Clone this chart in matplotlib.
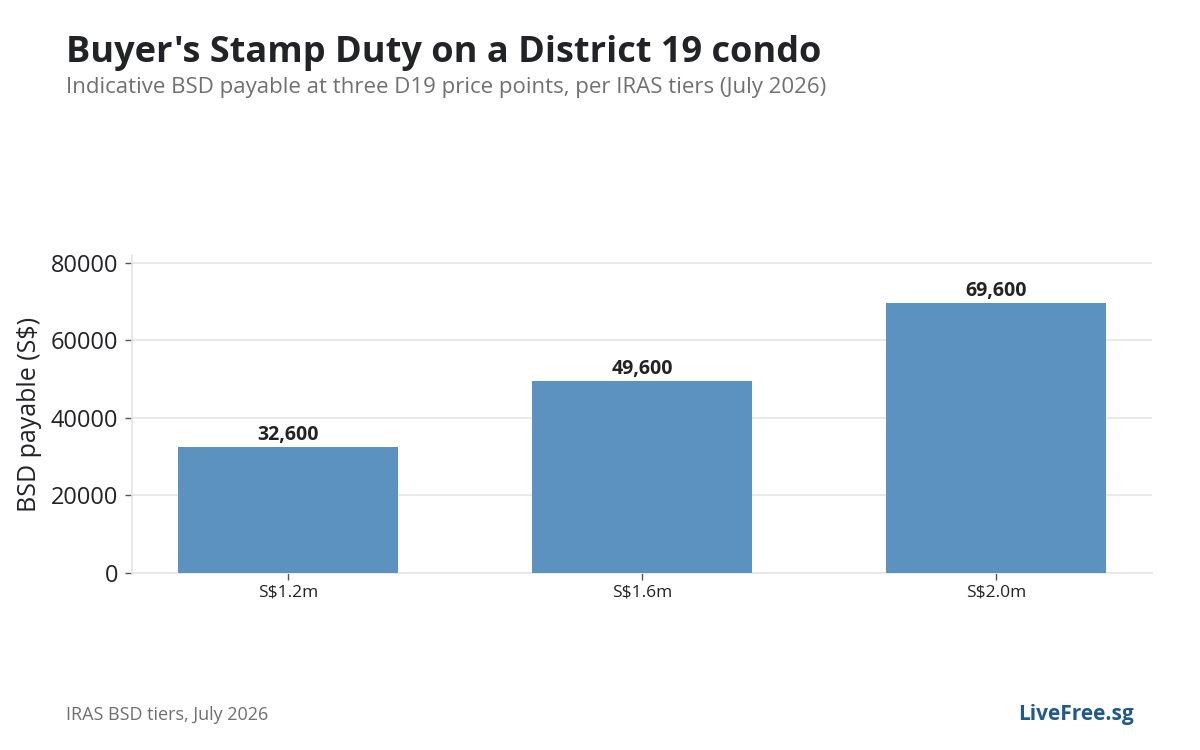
import matplotlib
matplotlib.use("Agg")
import matplotlib.pyplot as plt

# ------------------------------------------------------------
# Data
# ------------------------------------------------------------
PRICE_LABELS = ["S$1.2m", "S$1.6m", "S$2.0m"]
BSD_PAYABLE = [32600, 49600, 69600]
Y_TICKS = [0, 20000, 40000, 60000, 80000]

TITLE = "Buyer's Stamp Duty on a District 19 condo"
SUBTITLE = "Indicative BSD payable at three D19 price points, per IRAS tiers (July 2026)"
SOURCE = "IRAS BSD tiers, July 2026"
BRAND = "LiveFree.sg"

BAR_COLOR = "#5B92C0"
GRID_COLOR = "#E3E5E8"
TEXT_DARK = "#222326"
TEXT_GREY = "#707070"
BRAND_COLOR = "#1F5A8A"

plt.rcParams.update({
    "font.family": ["Open Sans", "DejaVu Sans"],
    "axes.unicode_minus": False,
})

fig = plt.figure(figsize=(12, 7.5), dpi=100)
ax = fig.add_axes([0.11, 0.236, 0.85, 0.424])

x = list(range(len(PRICE_LABELS)))
ax.bar(x, BSD_PAYABLE, width=0.62, color=BAR_COLOR, zorder=3)

for xi, val in zip(x, BSD_PAYABLE):
    ax.text(xi, val + 500, f"{val:,}", ha="center", va="bottom",
            fontsize=14, fontweight="bold", color=TEXT_DARK, zorder=4)

ax.set_ylim(0, 82000)
ax.set_yticks(Y_TICKS)
ax.set_yticklabels([str(t) for t in Y_TICKS], fontsize=17, color=TEXT_DARK)
ax.set_xticks(x)
ax.set_xticklabels(PRICE_LABELS, fontsize=12.5, color=TEXT_DARK)
ax.set_ylabel("BSD payable (S$)", fontsize=18, color=TEXT_DARK, labelpad=6)

ax.grid(axis="y", color=GRID_COLOR, lw=1.2, zorder=0)
for side in ["top", "right"]:
    ax.spines[side].set_visible(False)
for side in ["left", "bottom"]:
    ax.spines[side].set_color(GRID_COLOR)
    ax.spines[side].set_linewidth(1.2)
ax.tick_params(axis="both", color="#555555", length=5, width=1)
ax.tick_params(axis="y", pad=5)

fig.text(0.055, 0.917, TITLE, fontsize=26, fontweight="bold",
         color=TEXT_DARK, ha="left", va="baseline")
fig.text(0.055, 0.876, SUBTITLE, fontsize=16, color=TEXT_GREY,
         ha="left", va="baseline")
fig.text(0.055, 0.040, SOURCE, fontsize=13, color=TEXT_GREY,
         ha="left", va="baseline")
fig.text(0.945, 0.040, BRAND, fontsize=15, fontweight="bold",
         color=BRAND_COLOR, ha="right", va="baseline")

fig.savefig("out.png", dpi=100, facecolor="white")
